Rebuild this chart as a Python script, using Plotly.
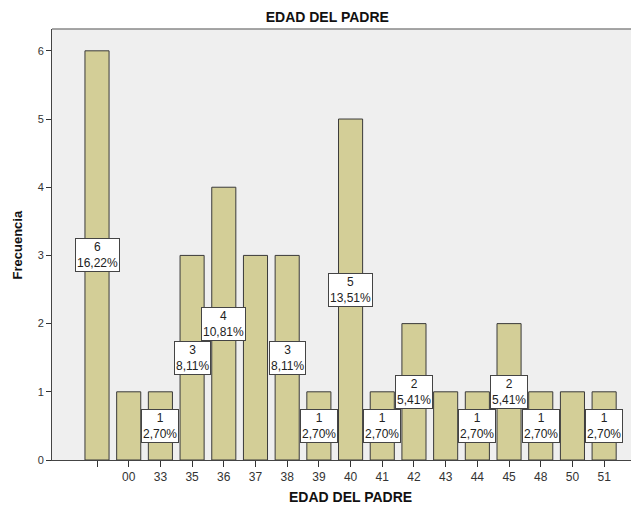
import plotly.graph_objects as go

categories = ["", "00", "33", "35", "36", "37", "38", "39", "40", "41", "42", "43", "44", "45", "48", "50", "51"]
frequencies = [6, 1, 1, 3, 4, 3, 3, 1, 5, 1, 2, 1, 1, 2, 1, 1, 1]
labeled = ["", "33", "35", "36", "38", "39", "40", "41", "42", "44", "45", "48", "51"]

total = sum(frequencies)
xs = list(range(len(categories)))

fig = go.Figure()
fig.add_trace(go.Bar(
    x=xs, y=frequencies, width=0.76,
    marker=dict(color="#D3CE97", line=dict(color="#3a3a3a", width=1)),
    hoverinfo="skip",
))

for i, (c, v) in enumerate(zip(categories, frequencies)):
    if c in labeled:
        pct = f"{v / total * 100:.2f}".replace(".", ",")
        fig.add_annotation(
            x=i, y=v / 2, xref="x", yref="y",
            text=f"{v}<br>{pct}%", showarrow=False,
            font=dict(family="Liberation Sans, Arial", size=12, color="#222"),
            bgcolor="white", bordercolor="#444", borderwidth=1, borderpad=1,
        )

fig.add_shape(type="line", xref="paper", yref="paper", x0=0, x1=1, y0=1, y1=1,
              line=dict(color="#888", width=1.5))

fig.add_annotation(xref="paper", yref="paper", x=0.509, y=-0.086, yanchor="middle",
                   text="<b>EDAD DEL PADRE</b>", showarrow=False,
                   font=dict(family="Liberation Sans, Arial", size=14, color="#111"))
fig.add_annotation(xref="paper", yref="paper", x=-0.058, y=0.5, textangle=-90,
                   xanchor="center", yanchor="middle",
                   text="<b>Frecuencia</b>", showarrow=False,
                   font=dict(family="Liberation Sans, Arial", size=13, color="#111"))

fig.update_layout(
    width=631, height=502,
    margin=dict(l=44, r=0, t=21, b=50, autoexpand=False),
    paper_bgcolor="white", plot_bgcolor="#EFEFEF",
    showlegend=False,
    font=dict(family="Liberation Sans, Arial", color="#222"),
    title=dict(text="<b>EDAD DEL PADRE</b>", x=0.506, xanchor="center", y=0.982, yanchor="middle",
               xref="container", font=dict(size=14, color="#111")),
    xaxis=dict(
        range=[-1.42, 17.1], tickmode="array", tickvals=xs, ticktext=categories,
        ticks="outside", ticklen=6, tickcolor="#333", showgrid=False, zeroline=False,
        showline=True, linecolor="#444", linewidth=1, automargin=False,
        tickfont=dict(size=12, color="#333"),
    ),
    yaxis=dict(
        range=[0, 6.32], tickvals=[0, 1, 2, 3, 4, 5, 6],
        ticks="outside", ticklen=5, tickcolor="#333", showgrid=False, zeroline=False,
        showline=True, linecolor="#444", linewidth=1, automargin=False,
        tickfont=dict(size=11, color="#333"),
    ),
)

fig.write_html("out.html")
